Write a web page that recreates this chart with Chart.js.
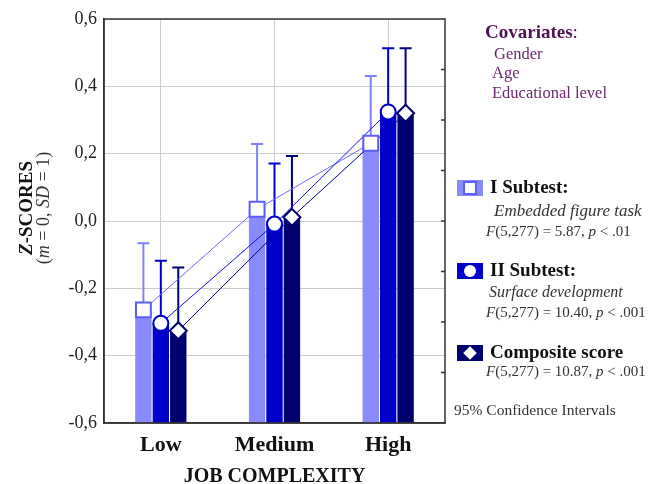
<!DOCTYPE html>
<html>
<head>
<meta charset="utf-8">
<script src="https://cdn.jsdelivr.net/npm/chart.js@4.4.0/dist/chart.umd.min.js"></script>
<style>
  html, body { margin: 0; padding: 0; background: #fff; }
  #wrap { width: 672px; height: 484px; }
</style>
</head>
<body>
<div id="wrap"><canvas id="chart" width="672" height="484"></canvas></div>
<script>
// Data
const categories = ["Low", "Medium", "High"];
const seriesNames = ["I Subtest:", "II Subtest:", "Composite score"];
const embeddedMeans = [-0.264, 0.035, 0.231];
const surfaceMeans = [-0.304, -0.009, 0.324];
const compositeMeans = [-0.326, 0.011, 0.320];
const embeddedUpper = [-0.066, 0.229, 0.431];
const surfaceUpper = [-0.118, 0.171, 0.513];
const compositeUpper = [-0.138, 0.193, 0.513];
const rightTickValues = [-0.45, -0.3, -0.15, 0, 0.15, 0.3, 0.45];
const covariates = ["Gender", "Age", "Educational level"];

const means = [embeddedMeans, surfaceMeans, compositeMeans];
const uppers = [embeddedUpper, surfaceUpper, compositeUpper];

// Styles
const SERIF = "'Liberation Serif', 'DejaVu Serif', serif";
const barColors = ["#8a8aff", "#0000cc", "#00006e"];
const whiskerColors = ["#8080ff", "#0000cc", "#000080"];
const lineColors = ["#6a6aff", "#1010dd", "#000080"];
const markerBorders = ["#5c5cff", "#0000cc", "#00006e"];
const pointStyles = ["rect", "circle", "rectRot"];
const markerRadius = [10.5, 7.5, 8.5];

// Draw a line made of differently styled pieces
const drawRich = (ctx, parts, x, y, align) => {
  let total = 0;
  parts.forEach((p) => {
    ctx.font = p.font;
    total += ctx.measureText(p.text).width;
  });
  let cx = align === "center" ? x - total / 2 : x;
  ctx.textAlign = "left";
  ctx.textBaseline = "middle";
  parts.forEach((p) => {
    ctx.font = p.font;
    ctx.fillStyle = p.color;
    ctx.fillText(p.text, cx, y);
    cx += ctx.measureText(p.text).width;
  });
};

const statLine = (df, val, pText) => [
  { text: "F", font: `italic 15px ${SERIF}`, color: "#333" },
  { text: `(${df}) = ${val}, `, font: `15px ${SERIF}`, color: "#333" },
  { text: "p", font: `italic 15px ${SERIF}`, color: "#333" },
  { text: ` < ${pText}`, font: `15px ${SERIF}`, color: "#333" },
];

const overlayPlugin = {
  id: "overlay",
  afterDatasetsDraw(chart) {
    const ctx = chart.ctx;
    const yScale = chart.scales.y;
    ctx.save();
    // error bars (upper whiskers)
    means.forEach((m, i) => {
      const meta = chart.getDatasetMeta(i);
      meta.data.forEach((bar, j) => {
        const top = yScale.getPixelForValue(uppers[i][j]);
        ctx.strokeStyle = whiskerColors[i];
        ctx.lineWidth = 2;
        ctx.beginPath();
        ctx.moveTo(bar.x, bar.y);
        ctx.lineTo(bar.x, top);
        ctx.moveTo(bar.x - 6, top);
        ctx.lineTo(bar.x + 6, top);
        ctx.stroke();
      });
    });
    // connecting lines
    means.forEach((m, i) => {
      const meta = chart.getDatasetMeta(i);
      ctx.strokeStyle = lineColors[i];
      ctx.lineWidth = 1;
      ctx.beginPath();
      meta.data.forEach((bar, j) => {
        if (j === 0) ctx.moveTo(bar.x, bar.y);
        else ctx.lineTo(bar.x, bar.y);
      });
      ctx.stroke();
    });
    // markers
    means.forEach((m, i) => {
      const meta = chart.getDatasetMeta(i);
      meta.data.forEach((bar) => {
        ctx.fillStyle = "#fff";
        ctx.strokeStyle = markerBorders[i];
        ctx.lineWidth = 2;
        Chart.helpers.drawPoint(
          ctx,
          { pointStyle: pointStyles[i], radius: markerRadius[i], borderWidth: 2, rotation: 0 },
          bar.x,
          bar.y
        );
      });
    });
    ctx.restore();
  },
  afterDraw(chart) {
    const ctx = chart.ctx;
    const area = chart.chartArea;
    const yScale = chart.scales.y;
    ctx.save();

    // frame around plot
    ctx.strokeStyle = "#333";
    ctx.lineWidth = 1.5;
    ctx.strokeRect(area.left, area.top, area.right - area.left, area.bottom - area.top);

    // inner ticks on the right border
    ctx.lineWidth = 1.5;
    ctx.beginPath();
    rightTickValues.forEach((v) => {
      const py = yScale.getPixelForValue(v);
      ctx.moveTo(area.right - 4, py);
      ctx.lineTo(area.right, py);
    });
    ctx.stroke();

    // y title
    ctx.save();
    ctx.translate(27, 208);
    ctx.rotate(-Math.PI / 2);
    drawRich(ctx, [
      { text: "Z", font: `italic bold 19px ${SERIF}`, color: "#111" },
      { text: "-SCORES", font: `bold 19px ${SERIF}`, color: "#111" },
    ], 0, 0, "center");
    drawRich(ctx, [
      { text: "(", font: `18px ${SERIF}`, color: "#333" },
      { text: "m", font: `italic 18px ${SERIF}`, color: "#333" },
      { text: " = 0, ", font: `18px ${SERIF}`, color: "#333" },
      { text: "SD", font: `italic 18px ${SERIF}`, color: "#333" },
      { text: " = 1)", font: `18px ${SERIF}`, color: "#333" },
    ], 0, 17, "center");
    ctx.restore();

    // covariates
    drawRich(ctx, [
      { text: "Covariates", font: `bold 19px ${SERIF}`, color: "#4f1450" },
      { text: ":", font: `19px ${SERIF}`, color: "#4f1450" },
    ], 485, 33, "left");
    const covY = [55, 74, 94];
    covariates.forEach((c, k) => {
      drawRich(ctx, [{ text: c, font: `16.5px ${SERIF}`, color: "#6a2a6a" }], k === 0 ? 494 : 492, covY[k], "left");
    });

    // legend
    const iconY = [188, 271, 353];
    iconY.forEach((iy, i) => {
      ctx.fillStyle = barColors[i];
      ctx.fillRect(457, iy - 8, 26, 16);
      ctx.fillStyle = "#fff";
      ctx.strokeStyle = markerBorders[i];
      ctx.lineWidth = 2;
      Chart.helpers.drawPoint(
        ctx,
        { pointStyle: pointStyles[i], radius: markerRadius[i] * 0.8, borderWidth: i === 0 ? 2 : 0, rotation: 0 },
        470,
        iy
      );
      drawRich(ctx, [{ text: seriesNames[i], font: `bold 19px ${SERIF}`, color: "#111" }], 490, iy, "left");
    });
    drawRich(ctx, [{ text: "Embedded figure task", font: `italic 17px ${SERIF}`, color: "#333" }], 494, 212, "left");
    drawRich(ctx, statLine("5,277", "5.87", ".01"), 486, 232, "left");
    drawRich(ctx, [{ text: "Surface development", font: `italic 16px ${SERIF}`, color: "#333" }], 489, 293, "left");
    drawRich(ctx, statLine("5,277", "10.40", ".001"), 486, 313, "left");
    drawRich(ctx, statLine("5,277", "10.87", ".001"), 486, 372, "left");
    drawRich(ctx, [{ text: "95% Confidence Intervals", font: `15.5px ${SERIF}`, color: "#333" }], 454, 411, "left");

    ctx.restore();
  },
};

const datasets = means.map((m, i) => ({
  label: seriesNames[i],
  data: m,
  base: -0.6,
  backgroundColor: barColors[i],
  borderWidth: 0,
  categoryPercentage: 0.46,
  barPercentage: 0.94,
}));

new Chart(document.getElementById("chart").getContext("2d"), {
  type: "bar",
  data: { labels: categories, datasets },
  options: {
    responsive: false,
    animation: false,
    layout: { padding: { left: 0, right: 227, top: 19, bottom: 0 } },
    plugins: { legend: { display: false }, tooltip: { enabled: false } },
    scales: {
      x: {
        offset: true,
        grid: { offset: false, color: "#cccccc", drawTicks: false },
        border: { color: "#333", width: 1.5 },
        ticks: { color: "#111", padding: 9, font: { family: SERIF, size: 22, weight: "bold" } },
        title: {
          display: true,
          text: "JOB COMPLEXITY",
          color: "#111",
          padding: { top: 0, bottom: 0 },
          font: { family: SERIF, size: 20, weight: "bold", lineHeight: 0.7 },
        },
        afterFit: (s) => { s.height = 61; },
      },
      y: {
        min: -0.6,
        max: 0.6,
        grid: { color: "#cccccc", drawTicks: false },
        border: { color: "#333", width: 1.5 },
        ticks: {
          stepSize: 0.2,
          color: "#222",
          padding: 7,
          font: { family: SERIF, size: 18 },
          callback: (v) => Number(v).toFixed(1).replace(".", ","),
        },
        afterFit: (s) => { s.width = 104; },
      },
    },
  },
  plugins: [overlayPlugin],
});
</script>
</body>
</html>
